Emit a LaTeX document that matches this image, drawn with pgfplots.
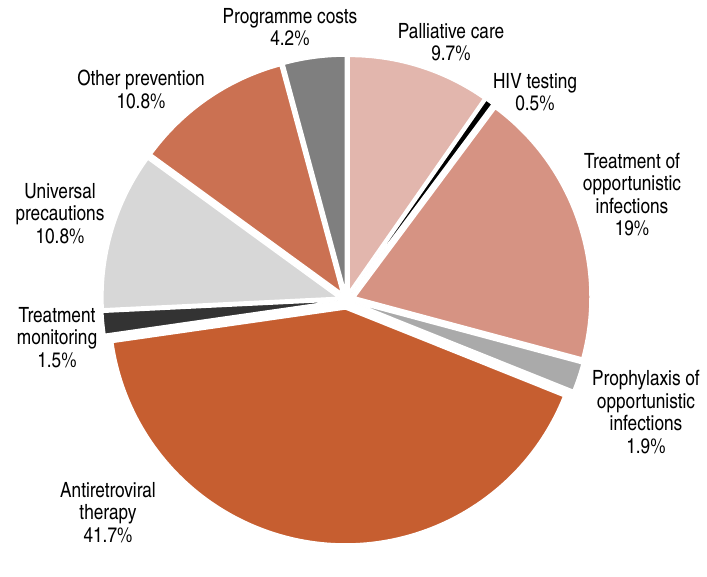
\documentclass[border=0pt]{standalone}
\usepackage{pgfplots}
\pgfplotsset{compat=1.18}
\usepackage{pgfplotstable}
\usepackage{fontspec}
\setmainfont{TeX Gyre Heros Cn}
\definecolor{cpall}{HTML}{E2B6AD}
\definecolor{chiv}{HTML}{000000}
\definecolor{ctoi}{HTML}{D69383}
\definecolor{cpro}{HTML}{AAAAAA}
\definecolor{cart}{HTML}{C65E30}
\definecolor{ctm}{HTML}{333333}
\definecolor{cup}{HTML}{D7D7D7}
\definecolor{cop}{HTML}{CB7152}
\definecolor{cpc}{HTML}{7F7F7F}
\pgfplotstableread[col sep=comma]{
label,value,color
Palliative care,9.7,cpall
HIV testing,0.5,chiv
Treatment of opportunistic infections,19,ctoi
Prophylaxis of opportunistic infections,1.9,cpro
Antiretroviral therapy,41.7,cart
Treatment monitoring,1.5,ctm
Universal precautions,10.8,cup
Other prevention,10.8,cop
Programme costs,4.2,cpc
}\piedata
\begin{document}
\begin{tikzpicture}
\begin{axis}[
  x=1pt, y=1pt, xmin=0, xmax=707, ymin=0, ymax=546,
  hide axis, clip=false, scale only axis,
  disabledatascaling,
]
\pgfplotsextra{%
  \path (axis cs:0,0) rectangle (axis cs:707,546);
  \gdef\startang{90}%
  \pgfplotstableforeachcolumnelement{value}\of\piedata\as\val{%
    \pgfmathsetmacro{\sweep}{360*\val/100.1}%
    \pgfmathsetmacro{\endang}{\startang-\sweep}%
    \pgfmathsetmacro{\midang}{\startang-\sweep/2}%
    \pgfmathsetmacro{\ox}{346.5+9*cos(\midang)}%
    \pgfmathsetmacro{\oy}{246+9*sin(\midang)}%
    \pgfplotstablegetelem{\pgfplotstablerow}{color}\of\piedata
    \edef\wcol{\pgfplotsretval}%
    \fill[fill=\wcol, draw=white, line width=1.5pt, line join=miter]
      (axis cs:\ox,\oy) -- ++(\startang:235pt)
      arc[start angle=\startang, end angle=\endang, radius=235pt] -- cycle;
    \xdef\startang{\endang}%
  }%
}
\tikzset{lbl/.style={align=center, inner sep=0pt, font=\fontsize{21}{22.5}\selectfont}}
\node[lbl] at (axis cs:290,519) {Programme costs\\4.2\%};
\node[lbl] at (axis cs:451,504) {Palliative care\\9.7\%};
\node[lbl] at (axis cs:535,454) {HIV testing\\0.5\%};
\node[lbl] at (axis cs:632,351.5) {Treatment of\\opportunistic\\infections\\19\%};
\node[lbl] at (axis cs:646,134) {Prophylaxis of\\opportunistic\\infections\\1.9\%};
\node[lbl] at (axis cs:108,33.5) {Antiretroviral\\therapy\\41.7\%};
\node[lbl] at (axis cs:57,208.5) {Treatment\\monitoring\\1.5\%};
\node[lbl] at (axis cs:60,332.5) {Universal\\precautions\\10.8\%};
\node[lbl] at (axis cs:141,456.5) {Other prevention\\10.8\%};
\end{axis}
\end{tikzpicture}
\end{document}
